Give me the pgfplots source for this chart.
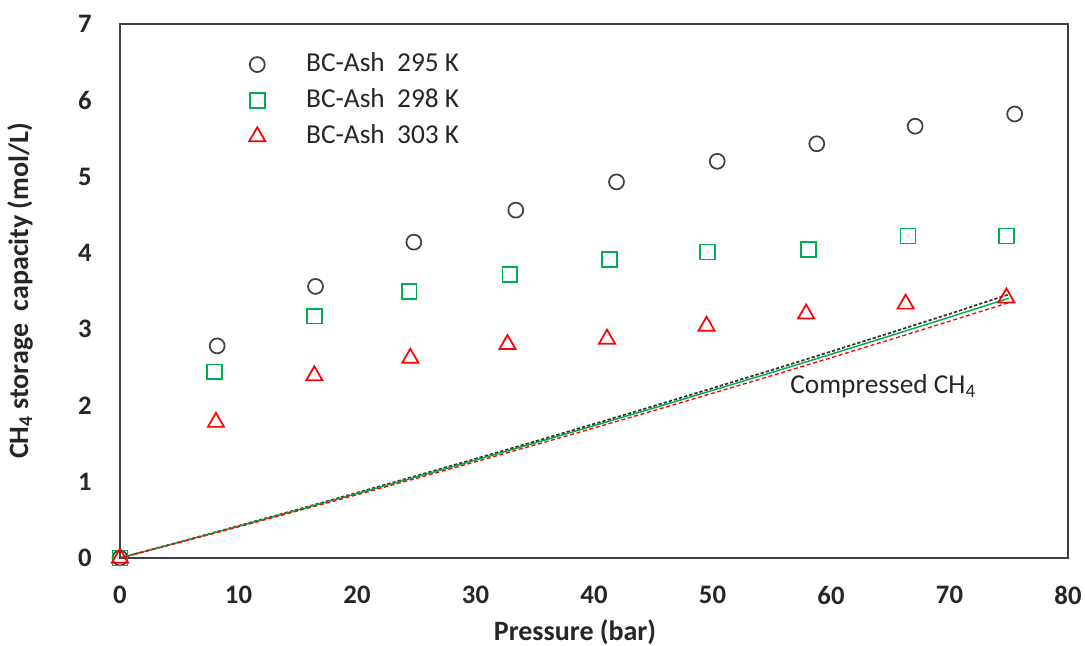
\documentclass[border=0pt]{standalone}
\usepackage{pgfplots}
\pgfplotsset{compat=1.18}
\usepackage{fontspec}
\setmainfont{Carlito}
\definecolor{cgray}{HTML}{404040}
\definecolor{cgreen}{HTML}{00B050}
\definecolor{cred}{HTML}{FF0000}
\begin{document}
\begin{tikzpicture}
\begin{axis}[
  scale only axis, width=711pt, height=400.5pt,
  xmin=0, xmax=80, ymin=0, ymax=7,
  xtick={0,10,...,80}, ytick={0,1,...,7},
  major tick length=0pt,
  axis line style={draw=cgray, line width=1.2pt},
  /pgf/number format/assume math mode=true,
  tick label style={font=\fontsize{20}{24}\selectfont\bfseries, text=black!85},
  xticklabel style={inner sep=0pt, anchor=north, yshift=-21pt},
  yticklabel style={inner sep=0pt, anchor=east, xshift=-21pt},
  xlabel={Pressure (bar)},
  ylabel={CH\textsubscript{4} storage\ \ capacity (mol/L)},
  label style={font=\fontsize{21}{25}\selectfont\bfseries, text=black!85},
  xlabel style={at={(axis description cs:0.48,-0.1386)}, anchor=center},
  ylabel style={at={(axis description cs:-0.1055,0.5)}, anchor=center},
  clip=false,
  legend cell align=left,
  legend style={at={(axis description cs:0.136,0.952)}, anchor=north west, draw=none, fill=none,
    inner xsep=0pt, inner ysep=0pt, row sep=5pt,
    font=\fontsize{20.5}{24}\selectfont, text=black!85,
    nodes={inner sep=2pt, text height=14pt, text depth=4pt}},
  legend image code/.code={\path (0pt,0pt) (34pt,0pt); \draw[mark repeat=2,mark phase=2] plot coordinates {(0pt,0pt)(0pt,0pt)(0pt,0pt)};},
]
% compressed CH4 lines
\addplot[forget plot, black!80, line width=1.3pt, dash pattern=on 2.5pt off 1.5pt] coordinates {
(0,0) (5,0.209) (10,0.421) (15,0.636) (20,0.855) (25,1.076) (30,1.300) (35,1.527) (40,1.757) (45,1.990) (50,2.226) (55,2.464) (60,2.706) (65,2.951) (70,3.199) (75,3.455)};
\addplot[forget plot, cgreen, line width=1.1pt] coordinates {
(0,0) (5,0.206) (10,0.416) (15,0.628) (20,0.844) (25,1.062) (30,1.283) (35,1.507) (40,1.734) (45,1.964) (50,2.197) (55,2.432) (60,2.671) (65,2.913) (70,3.157) (75,3.405)};
\addplot[forget plot, cred, line width=1.0pt, dash pattern=on 3pt off 2pt] coordinates {
(0,0) (5,0.203) (10,0.408) (15,0.617) (20,0.829) (25,1.044) (30,1.261) (35,1.481) (40,1.704) (45,1.930) (50,2.159) (55,2.390) (60,2.625) (65,2.862) (70,3.103) (75,3.347)};
% adsorption data
\addplot[only marks, mark=o, mark size=5.6pt, draw=cgray, line width=1.3pt] coordinates {
(0,0) (8.2,2.78) (16.5,3.56) (24.8,4.14) (33.4,4.56) (41.9,4.93) (50.4,5.20) (58.8,5.43) (67.1,5.66) (75.5,5.82)};
\addlegendentry{BC-Ash\ \ 295 K}
\addplot[only marks, mark=square, mark size=5.6pt, draw=cgreen, line width=1.3pt] coordinates {
(0,0) (8.0,2.44) (16.4,3.17) (24.4,3.49) (32.9,3.72) (41.3,3.91) (49.6,4.01) (58.1,4.04) (66.5,4.22) (74.8,4.22)};
\addlegendentry{BC-Ash\ \ 298 K}
\addplot[only marks, mark=triangle, mark size=7pt, draw=cred, line width=1.3pt] coordinates {
(0,0) (8.1,1.78) (16.4,2.39) (24.5,2.62) (32.7,2.80) (41.1,2.87) (49.5,3.04) (57.9,3.20) (66.3,3.33) (74.8,3.41)};
\addlegendentry{BC-Ash\ \ 303 K}
\node[font=\fontsize{20.5}{24}\selectfont, text=black!85, anchor=center] at (axis cs:64.4,2.25) {Compressed CH\textsubscript{4}};
\end{axis}
\pgfresetboundingbox
\path[use as bounding box] ([shift={(-90pt,-66pt)}]current axis.south west) rectangle ([shift={(12.75pt,18pt)}]current axis.north east);
\end{tikzpicture}
\end{document}
